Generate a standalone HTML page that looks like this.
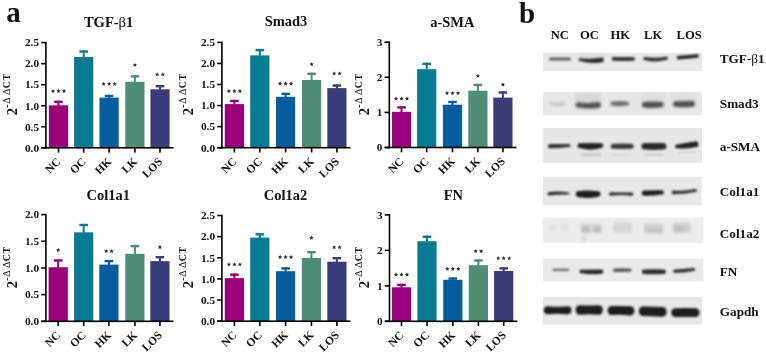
<!DOCTYPE html>
<html><head><meta charset="utf-8"><style>
html,body{margin:0;padding:0;background:#fff;}
body{width:766px;height:355px;overflow:hidden;}
svg{display:block;font-family:"Liberation Serif", serif;opacity:0.999;}
text{fill:#111;}
</style></head><body>
<svg width="766" height="355" viewBox="0 0 766 355">
<defs><filter id="bl" x="-10%" y="-50%" width="120%" height="200%"><feGaussianBlur stdDeviation="1.0"/></filter><filter id="bl3" x="-10%" y="-50%" width="120%" height="200%"><feGaussianBlur stdDeviation="1.4"/></filter><filter id="bl2" x="-20%" y="-50%" width="140%" height="200%"><feGaussianBlur stdDeviation="1.5"/></filter></defs>
<text x="6.2" y="21.5" font-size="29" font-weight="bold">a</text>
<text x="519.0" y="22.9" font-size="29" font-weight="bold">b</text>
<rect x="48.90" y="105.30" width="19.2" height="42.50" fill="#9b007a"/>
<rect x="57.50" y="100.60" width="2.0" height="5.20" fill="#9b007a"/>
<rect x="54.20" y="100.60" width="8.6" height="2.4" fill="#9b007a"/>
<path d="M53.00,88.80 L53.61,90.26 L55.19,90.39 L53.98,91.42 L54.35,92.96 L53.00,92.13 L51.65,92.96 L52.02,91.42 L50.81,90.39 L52.39,90.26Z" fill="#2a2a2a"/>
<path d="M58.50,88.80 L59.11,90.26 L60.69,90.39 L59.48,91.42 L59.85,92.96 L58.50,92.13 L57.15,92.96 L57.52,91.42 L56.31,90.39 L57.89,90.26Z" fill="#2a2a2a"/>
<path d="M64.00,88.80 L64.61,90.26 L66.19,90.39 L64.98,91.42 L65.35,92.96 L64.00,92.13 L62.65,92.96 L63.02,91.42 L61.81,90.39 L63.39,90.26Z" fill="#2a2a2a"/>
<rect x="57.70" y="147.80" width="1.6" height="4.8" fill="#000"/>
<text x="61.50" y="162.30" transform="rotate(-45 61.50 162.30)" text-anchor="end" font-size="11.5" font-weight="bold">NC</text>
<rect x="74.10" y="57.00" width="19.2" height="90.80" fill="#077b93"/>
<rect x="82.70" y="50.30" width="2.0" height="7.20" fill="#077b93"/>
<rect x="79.40" y="50.30" width="8.6" height="2.4" fill="#077b93"/>
<rect x="82.90" y="147.80" width="1.6" height="4.8" fill="#000"/>
<text x="86.70" y="162.30" transform="rotate(-45 86.70 162.30)" text-anchor="end" font-size="11.5" font-weight="bold">OC</text>
<rect x="99.50" y="97.60" width="19.2" height="50.20" fill="#055c9f"/>
<rect x="108.10" y="94.80" width="2.0" height="3.30" fill="#055c9f"/>
<rect x="104.80" y="94.80" width="8.6" height="2.4" fill="#055c9f"/>
<path d="M103.60,81.70 L104.21,83.16 L105.79,83.29 L104.58,84.32 L104.95,85.86 L103.60,85.03 L102.25,85.86 L102.62,84.32 L101.41,83.29 L102.99,83.16Z" fill="#2a2a2a"/>
<path d="M109.10,81.70 L109.71,83.16 L111.29,83.29 L110.08,84.32 L110.45,85.86 L109.10,85.03 L107.75,85.86 L108.12,84.32 L106.91,83.29 L108.49,83.16Z" fill="#2a2a2a"/>
<path d="M114.60,81.70 L115.21,83.16 L116.79,83.29 L115.58,84.32 L115.95,85.86 L114.60,85.03 L113.25,85.86 L113.62,84.32 L112.41,83.29 L113.99,83.16Z" fill="#2a2a2a"/>
<rect x="108.30" y="147.80" width="1.6" height="4.8" fill="#000"/>
<text x="112.10" y="162.30" transform="rotate(-45 112.10 162.30)" text-anchor="end" font-size="11.5" font-weight="bold">HK</text>
<rect x="125.30" y="81.80" width="19.2" height="66.00" fill="#4e8e74"/>
<rect x="133.90" y="75.10" width="2.0" height="7.20" fill="#4e8e74"/>
<rect x="130.60" y="75.10" width="8.6" height="2.4" fill="#4e8e74"/>
<path d="M134.90,62.70 L135.51,64.16 L137.09,64.29 L135.88,65.32 L136.25,66.86 L134.90,66.03 L133.55,66.86 L133.92,65.32 L132.71,64.29 L134.29,64.16Z" fill="#2a2a2a"/>
<rect x="134.10" y="147.80" width="1.6" height="4.8" fill="#000"/>
<text x="137.90" y="162.30" transform="rotate(-45 137.90 162.30)" text-anchor="end" font-size="11.5" font-weight="bold">LK</text>
<rect x="150.40" y="89.30" width="19.2" height="58.50" fill="#393c77"/>
<rect x="159.00" y="85.00" width="2.0" height="4.80" fill="#393c77"/>
<rect x="155.70" y="85.00" width="8.6" height="2.4" fill="#393c77"/>
<path d="M157.25,72.20 L157.86,73.66 L159.44,73.79 L158.23,74.82 L158.60,76.36 L157.25,75.53 L155.90,76.36 L156.27,74.82 L155.06,73.79 L156.64,73.66Z" fill="#2a2a2a"/>
<path d="M162.75,72.20 L163.36,73.66 L164.94,73.79 L163.73,74.82 L164.10,76.36 L162.75,75.53 L161.40,76.36 L161.77,74.82 L160.56,73.79 L162.14,73.66Z" fill="#2a2a2a"/>
<rect x="159.20" y="147.80" width="1.6" height="4.8" fill="#000"/>
<text x="163.00" y="162.30" transform="rotate(-45 163.00 162.30)" text-anchor="end" font-size="11.5" font-weight="bold">LOS</text>
<rect x="45.10" y="41.80" width="1.6" height="106.80" fill="#000"/>
<rect x="41.20" y="147.00" width="132.40" height="1.6" fill="#000"/>
<rect x="41.20" y="147.00" width="4.7" height="1.6" fill="#000"/>
<text x="39.10" y="151.60" text-anchor="end" font-size="11.3" font-weight="bold">0.0</text>
<rect x="41.20" y="125.96" width="4.7" height="1.6" fill="#000"/>
<text x="39.10" y="130.56" text-anchor="end" font-size="11.3" font-weight="bold">0.5</text>
<rect x="41.20" y="104.92" width="4.7" height="1.6" fill="#000"/>
<text x="39.10" y="109.52" text-anchor="end" font-size="11.3" font-weight="bold">1.0</text>
<rect x="41.20" y="83.88" width="4.7" height="1.6" fill="#000"/>
<text x="39.10" y="88.48" text-anchor="end" font-size="11.3" font-weight="bold">1.5</text>
<rect x="41.20" y="62.84" width="4.7" height="1.6" fill="#000"/>
<text x="39.10" y="67.44" text-anchor="end" font-size="11.3" font-weight="bold">2.0</text>
<rect x="41.20" y="41.80" width="4.7" height="1.6" fill="#000"/>
<text x="39.10" y="46.40" text-anchor="end" font-size="11.3" font-weight="bold">2.5</text>
<text x="108.60" y="27.20" text-anchor="middle" font-size="14.5" font-weight="bold">TGF-<tspan font-weight="normal">β</tspan>1</text>
<g transform="translate(17.00,115.30) rotate(-90)"><text x="0.1" y="0" font-size="14.5" font-weight="bold">2</text><text x="7.6" y="-7.1" font-size="10" font-weight="bold">-</text><text x="11.5" y="-7.1" font-size="10">Δ</text><text x="20.2" y="-7.1" font-size="10">Δ</text><text x="27.0" y="-7.1" font-size="10" font-weight="bold">C</text><text x="34.9" y="-7.1" font-size="10" font-weight="bold">T</text></g>
<rect x="224.80" y="104.10" width="19.2" height="43.60" fill="#9b007a"/>
<rect x="233.40" y="99.80" width="2.0" height="4.80" fill="#9b007a"/>
<rect x="230.10" y="99.80" width="8.6" height="2.4" fill="#9b007a"/>
<path d="M228.90,88.80 L229.51,90.26 L231.09,90.39 L229.88,91.42 L230.25,92.96 L228.90,92.13 L227.55,92.96 L227.92,91.42 L226.71,90.39 L228.29,90.26Z" fill="#2a2a2a"/>
<path d="M234.40,88.80 L235.01,90.26 L236.59,90.39 L235.38,91.42 L235.75,92.96 L234.40,92.13 L233.05,92.96 L233.42,91.42 L232.21,90.39 L233.79,90.26Z" fill="#2a2a2a"/>
<path d="M239.90,88.80 L240.51,90.26 L242.09,90.39 L240.88,91.42 L241.25,92.96 L239.90,92.13 L238.55,92.96 L238.92,91.42 L237.71,90.39 L239.29,90.26Z" fill="#2a2a2a"/>
<rect x="233.60" y="147.70" width="1.6" height="4.8" fill="#000"/>
<text x="237.40" y="162.20" transform="rotate(-45 237.40 162.20)" text-anchor="end" font-size="11.5" font-weight="bold">NC</text>
<rect x="250.20" y="55.40" width="19.2" height="92.30" fill="#077b93"/>
<rect x="258.80" y="48.90" width="2.0" height="7.00" fill="#077b93"/>
<rect x="255.50" y="48.90" width="8.6" height="2.4" fill="#077b93"/>
<rect x="259.00" y="147.70" width="1.6" height="4.8" fill="#000"/>
<text x="262.80" y="162.20" transform="rotate(-45 262.80 162.20)" text-anchor="end" font-size="11.5" font-weight="bold">OC</text>
<rect x="276.00" y="96.80" width="19.2" height="50.90" fill="#055c9f"/>
<rect x="284.60" y="92.70" width="2.0" height="4.60" fill="#055c9f"/>
<rect x="281.30" y="92.70" width="8.6" height="2.4" fill="#055c9f"/>
<path d="M280.10,81.30 L280.71,82.76 L282.29,82.89 L281.08,83.92 L281.45,85.46 L280.10,84.63 L278.75,85.46 L279.12,83.92 L277.91,82.89 L279.49,82.76Z" fill="#2a2a2a"/>
<path d="M285.60,81.30 L286.21,82.76 L287.79,82.89 L286.58,83.92 L286.95,85.46 L285.60,84.63 L284.25,85.46 L284.62,83.92 L283.41,82.89 L284.99,82.76Z" fill="#2a2a2a"/>
<path d="M291.10,81.30 L291.71,82.76 L293.29,82.89 L292.08,83.92 L292.45,85.46 L291.10,84.63 L289.75,85.46 L290.12,83.92 L288.91,82.89 L290.49,82.76Z" fill="#2a2a2a"/>
<rect x="284.80" y="147.70" width="1.6" height="4.8" fill="#000"/>
<text x="288.60" y="162.20" transform="rotate(-45 288.60 162.20)" text-anchor="end" font-size="11.5" font-weight="bold">HK</text>
<rect x="302.00" y="80.00" width="19.2" height="67.70" fill="#4e8e74"/>
<rect x="310.60" y="72.60" width="2.0" height="7.90" fill="#4e8e74"/>
<rect x="307.30" y="72.60" width="8.6" height="2.4" fill="#4e8e74"/>
<path d="M311.60,62.00 L312.21,63.46 L313.79,63.59 L312.58,64.62 L312.95,66.16 L311.60,65.33 L310.25,66.16 L310.62,64.62 L309.41,63.59 L310.99,63.46Z" fill="#2a2a2a"/>
<rect x="310.80" y="147.70" width="1.6" height="4.8" fill="#000"/>
<text x="314.60" y="162.20" transform="rotate(-45 314.60 162.20)" text-anchor="end" font-size="11.5" font-weight="bold">LK</text>
<rect x="327.30" y="88.10" width="19.2" height="59.60" fill="#393c77"/>
<rect x="335.90" y="84.40" width="2.0" height="4.20" fill="#393c77"/>
<rect x="332.60" y="84.40" width="8.6" height="2.4" fill="#393c77"/>
<path d="M334.15,71.20 L334.76,72.66 L336.34,72.79 L335.13,73.82 L335.50,75.36 L334.15,74.53 L332.80,75.36 L333.17,73.82 L331.96,72.79 L333.54,72.66Z" fill="#2a2a2a"/>
<path d="M339.65,71.20 L340.26,72.66 L341.84,72.79 L340.63,73.82 L341.00,75.36 L339.65,74.53 L338.30,75.36 L338.67,73.82 L337.46,72.79 L339.04,72.66Z" fill="#2a2a2a"/>
<rect x="336.10" y="147.70" width="1.6" height="4.8" fill="#000"/>
<text x="339.90" y="162.20" transform="rotate(-45 339.90 162.20)" text-anchor="end" font-size="11.5" font-weight="bold">LOS</text>
<rect x="221.10" y="41.60" width="1.6" height="106.90" fill="#000"/>
<rect x="217.20" y="146.90" width="133.30" height="1.6" fill="#000"/>
<rect x="217.20" y="146.90" width="4.7" height="1.6" fill="#000"/>
<text x="215.10" y="151.50" text-anchor="end" font-size="11.3" font-weight="bold">0.0</text>
<rect x="217.20" y="125.84" width="4.7" height="1.6" fill="#000"/>
<text x="215.10" y="130.44" text-anchor="end" font-size="11.3" font-weight="bold">0.5</text>
<rect x="217.20" y="104.78" width="4.7" height="1.6" fill="#000"/>
<text x="215.10" y="109.38" text-anchor="end" font-size="11.3" font-weight="bold">1.0</text>
<rect x="217.20" y="83.72" width="4.7" height="1.6" fill="#000"/>
<text x="215.10" y="88.32" text-anchor="end" font-size="11.3" font-weight="bold">1.5</text>
<rect x="217.20" y="62.66" width="4.7" height="1.6" fill="#000"/>
<text x="215.10" y="67.26" text-anchor="end" font-size="11.3" font-weight="bold">2.0</text>
<rect x="217.20" y="41.60" width="4.7" height="1.6" fill="#000"/>
<text x="215.10" y="46.20" text-anchor="end" font-size="11.3" font-weight="bold">2.5</text>
<text x="286.00" y="26.40" text-anchor="middle" font-size="14.5" font-weight="bold">Smad3</text>
<g transform="translate(193.00,115.30) rotate(-90)"><text x="0.1" y="0" font-size="14.5" font-weight="bold">2</text><text x="7.6" y="-7.1" font-size="10" font-weight="bold">-</text><text x="11.5" y="-7.1" font-size="10">Δ</text><text x="20.2" y="-7.1" font-size="10">Δ</text><text x="27.0" y="-7.1" font-size="10" font-weight="bold">C</text><text x="34.9" y="-7.1" font-size="10" font-weight="bold">T</text></g>
<rect x="391.90" y="111.80" width="19.2" height="35.70" fill="#9b007a"/>
<rect x="400.50" y="106.20" width="2.0" height="6.10" fill="#9b007a"/>
<rect x="397.20" y="106.20" width="8.6" height="2.4" fill="#9b007a"/>
<path d="M396.00,96.40 L396.61,97.86 L398.19,97.99 L396.98,99.02 L397.35,100.56 L396.00,99.73 L394.65,100.56 L395.02,99.02 L393.81,97.99 L395.39,97.86Z" fill="#2a2a2a"/>
<path d="M401.50,96.40 L402.11,97.86 L403.69,97.99 L402.48,99.02 L402.85,100.56 L401.50,99.73 L400.15,100.56 L400.52,99.02 L399.31,97.99 L400.89,97.86Z" fill="#2a2a2a"/>
<path d="M407.00,96.40 L407.61,97.86 L409.19,97.99 L407.98,99.02 L408.35,100.56 L407.00,99.73 L405.65,100.56 L406.02,99.02 L404.81,97.99 L406.39,97.86Z" fill="#2a2a2a"/>
<rect x="400.70" y="147.50" width="1.6" height="4.8" fill="#000"/>
<text x="404.50" y="162.00" transform="rotate(-45 404.50 162.00)" text-anchor="end" font-size="11.5" font-weight="bold">NC</text>
<rect x="417.10" y="69.20" width="19.2" height="78.30" fill="#077b93"/>
<rect x="425.70" y="62.70" width="2.0" height="7.00" fill="#077b93"/>
<rect x="422.40" y="62.70" width="8.6" height="2.4" fill="#077b93"/>
<rect x="425.90" y="147.50" width="1.6" height="4.8" fill="#000"/>
<text x="429.70" y="162.00" transform="rotate(-45 429.70 162.00)" text-anchor="end" font-size="11.5" font-weight="bold">OC</text>
<rect x="442.90" y="104.70" width="19.2" height="42.80" fill="#055c9f"/>
<rect x="451.50" y="100.80" width="2.0" height="4.40" fill="#055c9f"/>
<rect x="448.20" y="100.80" width="8.6" height="2.4" fill="#055c9f"/>
<path d="M447.00,90.90 L447.61,92.36 L449.19,92.49 L447.98,93.52 L448.35,95.06 L447.00,94.23 L445.65,95.06 L446.02,93.52 L444.81,92.49 L446.39,92.36Z" fill="#2a2a2a"/>
<path d="M452.50,90.90 L453.11,92.36 L454.69,92.49 L453.48,93.52 L453.85,95.06 L452.50,94.23 L451.15,95.06 L451.52,93.52 L450.31,92.49 L451.89,92.36Z" fill="#2a2a2a"/>
<path d="M458.00,90.90 L458.61,92.36 L460.19,92.49 L458.98,93.52 L459.35,95.06 L458.00,94.23 L456.65,95.06 L457.02,93.52 L455.81,92.49 L457.39,92.36Z" fill="#2a2a2a"/>
<rect x="451.70" y="147.50" width="1.6" height="4.8" fill="#000"/>
<text x="455.50" y="162.00" transform="rotate(-45 455.50 162.00)" text-anchor="end" font-size="11.5" font-weight="bold">HK</text>
<rect x="468.30" y="90.70" width="19.2" height="56.80" fill="#4e8e74"/>
<rect x="476.90" y="83.80" width="2.0" height="7.40" fill="#4e8e74"/>
<rect x="473.60" y="83.80" width="8.6" height="2.4" fill="#4e8e74"/>
<path d="M477.90,73.70 L478.51,75.16 L480.09,75.29 L478.88,76.32 L479.25,77.86 L477.90,77.03 L476.55,77.86 L476.92,76.32 L475.71,75.29 L477.29,75.16Z" fill="#2a2a2a"/>
<rect x="477.10" y="147.50" width="1.6" height="4.8" fill="#000"/>
<text x="480.90" y="162.00" transform="rotate(-45 480.90 162.00)" text-anchor="end" font-size="11.5" font-weight="bold">LK</text>
<rect x="493.30" y="97.60" width="19.2" height="49.90" fill="#393c77"/>
<rect x="501.90" y="91.30" width="2.0" height="6.80" fill="#393c77"/>
<rect x="498.60" y="91.30" width="8.6" height="2.4" fill="#393c77"/>
<path d="M502.90,82.40 L503.51,83.86 L505.09,83.99 L503.88,85.02 L504.25,86.56 L502.90,85.73 L501.55,86.56 L501.92,85.02 L500.71,83.99 L502.29,83.86Z" fill="#2a2a2a"/>
<rect x="502.10" y="147.50" width="1.6" height="4.8" fill="#000"/>
<text x="505.90" y="162.00" transform="rotate(-45 505.90 162.00)" text-anchor="end" font-size="11.5" font-weight="bold">LOS</text>
<rect x="388.50" y="41.40" width="1.6" height="106.90" fill="#000"/>
<rect x="384.60" y="146.70" width="131.90" height="1.6" fill="#000"/>
<rect x="384.60" y="146.70" width="4.7" height="1.6" fill="#000"/>
<text x="382.50" y="151.30" text-anchor="end" font-size="11.3" font-weight="bold">0</text>
<rect x="384.60" y="111.60" width="4.7" height="1.6" fill="#000"/>
<text x="382.50" y="116.20" text-anchor="end" font-size="11.3" font-weight="bold">1</text>
<rect x="384.60" y="76.50" width="4.7" height="1.6" fill="#000"/>
<text x="382.50" y="81.10" text-anchor="end" font-size="11.3" font-weight="bold">2</text>
<rect x="384.60" y="41.40" width="4.7" height="1.6" fill="#000"/>
<text x="382.50" y="46.00" text-anchor="end" font-size="11.3" font-weight="bold">3</text>
<text x="452.30" y="27.00" text-anchor="middle" font-size="14.5" font-weight="bold">a-SMA</text>
<g transform="translate(369.20,115.30) rotate(-90)"><text x="0.1" y="0" font-size="14.5" font-weight="bold">2</text><text x="7.6" y="-7.1" font-size="10" font-weight="bold">-</text><text x="11.5" y="-7.1" font-size="10">Δ</text><text x="20.2" y="-7.1" font-size="10">Δ</text><text x="27.0" y="-7.1" font-size="10" font-weight="bold">C</text><text x="34.9" y="-7.1" font-size="10" font-weight="bold">T</text></g>
<rect x="48.60" y="267.20" width="19.2" height="54.10" fill="#9b007a"/>
<rect x="57.20" y="259.30" width="2.0" height="8.40" fill="#9b007a"/>
<rect x="53.90" y="259.30" width="8.6" height="2.4" fill="#9b007a"/>
<path d="M58.20,247.80 L58.81,249.26 L60.39,249.39 L59.18,250.42 L59.55,251.96 L58.20,251.13 L56.85,251.96 L57.22,250.42 L56.01,249.39 L57.59,249.26Z" fill="#2a2a2a"/>
<rect x="57.40" y="321.30" width="1.6" height="4.8" fill="#000"/>
<text x="61.20" y="335.80" transform="rotate(-45 61.20 335.80)" text-anchor="end" font-size="11.5" font-weight="bold">NC</text>
<rect x="74.10" y="232.30" width="19.2" height="89.00" fill="#077b93"/>
<rect x="82.70" y="223.80" width="2.0" height="9.00" fill="#077b93"/>
<rect x="79.40" y="223.80" width="8.6" height="2.4" fill="#077b93"/>
<rect x="82.90" y="321.30" width="1.6" height="4.8" fill="#000"/>
<text x="86.70" y="335.80" transform="rotate(-45 86.70 335.80)" text-anchor="end" font-size="11.5" font-weight="bold">OC</text>
<rect x="99.30" y="264.60" width="19.2" height="56.70" fill="#055c9f"/>
<rect x="107.90" y="259.90" width="2.0" height="5.20" fill="#055c9f"/>
<rect x="104.60" y="259.90" width="8.6" height="2.4" fill="#055c9f"/>
<path d="M106.15,248.90 L106.76,250.36 L108.34,250.49 L107.13,251.52 L107.50,253.06 L106.15,252.23 L104.80,253.06 L105.17,251.52 L103.96,250.49 L105.54,250.36Z" fill="#2a2a2a"/>
<path d="M111.65,248.90 L112.26,250.36 L113.84,250.49 L112.63,251.52 L113.00,253.06 L111.65,252.23 L110.30,253.06 L110.67,251.52 L109.46,250.49 L111.04,250.36Z" fill="#2a2a2a"/>
<rect x="108.10" y="321.30" width="1.6" height="4.8" fill="#000"/>
<text x="111.90" y="335.80" transform="rotate(-45 111.90 335.80)" text-anchor="end" font-size="11.5" font-weight="bold">HK</text>
<rect x="125.30" y="253.80" width="19.2" height="67.50" fill="#4e8e74"/>
<rect x="133.90" y="244.90" width="2.0" height="9.40" fill="#4e8e74"/>
<rect x="130.60" y="244.90" width="8.6" height="2.4" fill="#4e8e74"/>
<rect x="134.10" y="321.30" width="1.6" height="4.8" fill="#000"/>
<text x="137.90" y="335.80" transform="rotate(-45 137.90 335.80)" text-anchor="end" font-size="11.5" font-weight="bold">LK</text>
<rect x="150.30" y="261.10" width="19.2" height="60.20" fill="#393c77"/>
<rect x="158.90" y="256.00" width="2.0" height="5.60" fill="#393c77"/>
<rect x="155.60" y="256.00" width="8.6" height="2.4" fill="#393c77"/>
<path d="M159.90,244.90 L160.51,246.36 L162.09,246.49 L160.88,247.52 L161.25,249.06 L159.90,248.23 L158.55,249.06 L158.92,247.52 L157.71,246.49 L159.29,246.36Z" fill="#2a2a2a"/>
<rect x="159.10" y="321.30" width="1.6" height="4.8" fill="#000"/>
<text x="162.90" y="335.80" transform="rotate(-45 162.90 335.80)" text-anchor="end" font-size="11.5" font-weight="bold">LOS</text>
<rect x="45.10" y="213.80" width="1.6" height="108.30" fill="#000"/>
<rect x="41.20" y="320.50" width="132.30" height="1.6" fill="#000"/>
<rect x="41.20" y="320.50" width="4.7" height="1.6" fill="#000"/>
<text x="39.10" y="325.10" text-anchor="end" font-size="11.3" font-weight="bold">0.0</text>
<rect x="41.20" y="293.82" width="4.7" height="1.6" fill="#000"/>
<text x="39.10" y="298.43" text-anchor="end" font-size="11.3" font-weight="bold">0.5</text>
<rect x="41.20" y="267.15" width="4.7" height="1.6" fill="#000"/>
<text x="39.10" y="271.75" text-anchor="end" font-size="11.3" font-weight="bold">1.0</text>
<rect x="41.20" y="240.47" width="4.7" height="1.6" fill="#000"/>
<text x="39.10" y="245.08" text-anchor="end" font-size="11.3" font-weight="bold">1.5</text>
<rect x="41.20" y="213.80" width="4.7" height="1.6" fill="#000"/>
<text x="39.10" y="218.40" text-anchor="end" font-size="11.3" font-weight="bold">2.0</text>
<text x="108.30" y="200.30" text-anchor="middle" font-size="14.5" font-weight="bold">Col1a1</text>
<g transform="translate(17.00,288.30) rotate(-90)"><text x="0.1" y="0" font-size="14.5" font-weight="bold">2</text><text x="7.6" y="-7.1" font-size="10" font-weight="bold">-</text><text x="11.5" y="-7.1" font-size="10">Δ</text><text x="20.2" y="-7.1" font-size="10">Δ</text><text x="27.0" y="-7.1" font-size="10" font-weight="bold">C</text><text x="34.9" y="-7.1" font-size="10" font-weight="bold">T</text></g>
<rect x="224.80" y="278.10" width="19.2" height="43.10" fill="#9b007a"/>
<rect x="233.40" y="273.50" width="2.0" height="5.10" fill="#9b007a"/>
<rect x="230.10" y="273.50" width="8.6" height="2.4" fill="#9b007a"/>
<path d="M228.90,262.20 L229.51,263.66 L231.09,263.79 L229.88,264.82 L230.25,266.36 L228.90,265.54 L227.55,266.36 L227.92,264.82 L226.71,263.79 L228.29,263.66Z" fill="#2a2a2a"/>
<path d="M234.40,262.20 L235.01,263.66 L236.59,263.79 L235.38,264.82 L235.75,266.36 L234.40,265.54 L233.05,266.36 L233.42,264.82 L232.21,263.79 L233.79,263.66Z" fill="#2a2a2a"/>
<path d="M239.90,262.20 L240.51,263.66 L242.09,263.79 L240.88,264.82 L241.25,266.36 L239.90,265.54 L238.55,266.36 L238.92,264.82 L237.71,263.79 L239.29,263.66Z" fill="#2a2a2a"/>
<rect x="233.60" y="321.20" width="1.6" height="4.8" fill="#000"/>
<text x="237.40" y="335.70" transform="rotate(-45 237.40 335.70)" text-anchor="end" font-size="11.5" font-weight="bold">NC</text>
<rect x="250.20" y="237.60" width="19.2" height="83.60" fill="#077b93"/>
<rect x="258.80" y="233.10" width="2.0" height="5.00" fill="#077b93"/>
<rect x="255.50" y="233.10" width="8.6" height="2.4" fill="#077b93"/>
<rect x="259.00" y="321.20" width="1.6" height="4.8" fill="#000"/>
<text x="262.80" y="335.70" transform="rotate(-45 262.80 335.70)" text-anchor="end" font-size="11.5" font-weight="bold">OC</text>
<rect x="276.00" y="271.20" width="19.2" height="50.00" fill="#055c9f"/>
<rect x="284.60" y="267.20" width="2.0" height="4.50" fill="#055c9f"/>
<rect x="281.30" y="267.20" width="8.6" height="2.4" fill="#055c9f"/>
<path d="M280.10,254.80 L280.71,256.26 L282.29,256.39 L281.08,257.42 L281.45,258.96 L280.10,258.14 L278.75,258.96 L279.12,257.42 L277.91,256.39 L279.49,256.26Z" fill="#2a2a2a"/>
<path d="M285.60,254.80 L286.21,256.26 L287.79,256.39 L286.58,257.42 L286.95,258.96 L285.60,258.14 L284.25,258.96 L284.62,257.42 L283.41,256.39 L284.99,256.26Z" fill="#2a2a2a"/>
<path d="M291.10,254.80 L291.71,256.26 L293.29,256.39 L292.08,257.42 L292.45,258.96 L291.10,258.14 L289.75,258.96 L290.12,257.42 L288.91,256.39 L290.49,256.26Z" fill="#2a2a2a"/>
<rect x="284.80" y="321.20" width="1.6" height="4.8" fill="#000"/>
<text x="288.60" y="335.70" transform="rotate(-45 288.60 335.70)" text-anchor="end" font-size="11.5" font-weight="bold">HK</text>
<rect x="301.80" y="257.90" width="19.2" height="63.30" fill="#4e8e74"/>
<rect x="310.40" y="251.00" width="2.0" height="7.40" fill="#4e8e74"/>
<rect x="307.10" y="251.00" width="8.6" height="2.4" fill="#4e8e74"/>
<path d="M311.40,235.60 L312.01,237.06 L313.59,237.19 L312.38,238.22 L312.75,239.76 L311.40,238.94 L310.05,239.76 L310.42,238.22 L309.21,237.19 L310.79,237.06Z" fill="#2a2a2a"/>
<rect x="310.60" y="321.20" width="1.6" height="4.8" fill="#000"/>
<text x="314.40" y="335.70" transform="rotate(-45 314.40 335.70)" text-anchor="end" font-size="11.5" font-weight="bold">LK</text>
<rect x="327.30" y="261.70" width="19.2" height="59.50" fill="#393c77"/>
<rect x="335.90" y="257.00" width="2.0" height="5.20" fill="#393c77"/>
<rect x="332.60" y="257.00" width="8.6" height="2.4" fill="#393c77"/>
<path d="M334.15,245.00 L334.76,246.46 L336.34,246.59 L335.13,247.62 L335.50,249.16 L334.15,248.34 L332.80,249.16 L333.17,247.62 L331.96,246.59 L333.54,246.46Z" fill="#2a2a2a"/>
<path d="M339.65,245.00 L340.26,246.46 L341.84,246.59 L340.63,247.62 L341.00,249.16 L339.65,248.34 L338.30,249.16 L338.67,247.62 L337.46,246.59 L339.04,246.46Z" fill="#2a2a2a"/>
<rect x="336.10" y="321.20" width="1.6" height="4.8" fill="#000"/>
<text x="339.90" y="335.70" transform="rotate(-45 339.90 335.70)" text-anchor="end" font-size="11.5" font-weight="bold">LOS</text>
<rect x="221.10" y="214.70" width="1.6" height="107.30" fill="#000"/>
<rect x="217.20" y="320.40" width="133.30" height="1.6" fill="#000"/>
<rect x="217.20" y="320.40" width="4.7" height="1.6" fill="#000"/>
<text x="215.10" y="325.00" text-anchor="end" font-size="11.3" font-weight="bold">0.0</text>
<rect x="217.20" y="299.26" width="4.7" height="1.6" fill="#000"/>
<text x="215.10" y="303.86" text-anchor="end" font-size="11.3" font-weight="bold">0.5</text>
<rect x="217.20" y="278.12" width="4.7" height="1.6" fill="#000"/>
<text x="215.10" y="282.72" text-anchor="end" font-size="11.3" font-weight="bold">1.0</text>
<rect x="217.20" y="256.98" width="4.7" height="1.6" fill="#000"/>
<text x="215.10" y="261.58" text-anchor="end" font-size="11.3" font-weight="bold">1.5</text>
<rect x="217.20" y="235.84" width="4.7" height="1.6" fill="#000"/>
<text x="215.10" y="240.44" text-anchor="end" font-size="11.3" font-weight="bold">2.0</text>
<rect x="217.20" y="214.70" width="4.7" height="1.6" fill="#000"/>
<text x="215.10" y="219.30" text-anchor="end" font-size="11.3" font-weight="bold">2.5</text>
<text x="285.50" y="200.30" text-anchor="middle" font-size="14.5" font-weight="bold">Col1a2</text>
<g transform="translate(193.00,288.30) rotate(-90)"><text x="0.1" y="0" font-size="14.5" font-weight="bold">2</text><text x="7.6" y="-7.1" font-size="10" font-weight="bold">-</text><text x="11.5" y="-7.1" font-size="10">Δ</text><text x="20.2" y="-7.1" font-size="10">Δ</text><text x="27.0" y="-7.1" font-size="10" font-weight="bold">C</text><text x="34.9" y="-7.1" font-size="10" font-weight="bold">T</text></g>
<rect x="391.90" y="287.30" width="19.2" height="34.00" fill="#9b007a"/>
<rect x="400.50" y="283.70" width="2.0" height="4.10" fill="#9b007a"/>
<rect x="397.20" y="283.70" width="8.6" height="2.4" fill="#9b007a"/>
<path d="M396.00,272.30 L396.61,273.76 L398.19,273.89 L396.98,274.92 L397.35,276.46 L396.00,275.64 L394.65,276.46 L395.02,274.92 L393.81,273.89 L395.39,273.76Z" fill="#2a2a2a"/>
<path d="M401.50,272.30 L402.11,273.76 L403.69,273.89 L402.48,274.92 L402.85,276.46 L401.50,275.64 L400.15,276.46 L400.52,274.92 L399.31,273.89 L400.89,273.76Z" fill="#2a2a2a"/>
<path d="M407.00,272.30 L407.61,273.76 L409.19,273.89 L407.98,274.92 L408.35,276.46 L407.00,275.64 L405.65,276.46 L406.02,274.92 L404.81,273.89 L406.39,273.76Z" fill="#2a2a2a"/>
<rect x="400.70" y="321.30" width="1.6" height="4.8" fill="#000"/>
<text x="404.50" y="335.80" transform="rotate(-45 404.50 335.80)" text-anchor="end" font-size="11.5" font-weight="bold">NC</text>
<rect x="417.40" y="241.20" width="19.2" height="80.10" fill="#077b93"/>
<rect x="426.00" y="235.60" width="2.0" height="6.10" fill="#077b93"/>
<rect x="422.70" y="235.60" width="8.6" height="2.4" fill="#077b93"/>
<rect x="426.20" y="321.30" width="1.6" height="4.8" fill="#000"/>
<text x="430.00" y="335.80" transform="rotate(-45 430.00 335.80)" text-anchor="end" font-size="11.5" font-weight="bold">OC</text>
<rect x="443.20" y="279.80" width="19.2" height="41.50" fill="#055c9f"/>
<rect x="451.80" y="277.40" width="2.0" height="2.90" fill="#055c9f"/>
<rect x="448.50" y="277.40" width="8.6" height="2.4" fill="#055c9f"/>
<path d="M447.30,266.60 L447.91,268.06 L449.49,268.19 L448.28,269.22 L448.65,270.76 L447.30,269.94 L445.95,270.76 L446.32,269.22 L445.11,268.19 L446.69,268.06Z" fill="#2a2a2a"/>
<path d="M452.80,266.60 L453.41,268.06 L454.99,268.19 L453.78,269.22 L454.15,270.76 L452.80,269.94 L451.45,270.76 L451.82,269.22 L450.61,268.19 L452.19,268.06Z" fill="#2a2a2a"/>
<path d="M458.30,266.60 L458.91,268.06 L460.49,268.19 L459.28,269.22 L459.65,270.76 L458.30,269.94 L456.95,270.76 L457.32,269.22 L456.11,268.19 L457.69,268.06Z" fill="#2a2a2a"/>
<rect x="452.00" y="321.30" width="1.6" height="4.8" fill="#000"/>
<text x="455.80" y="335.80" transform="rotate(-45 455.80 335.80)" text-anchor="end" font-size="11.5" font-weight="bold">HK</text>
<rect x="468.80" y="265.20" width="19.2" height="56.10" fill="#4e8e74"/>
<rect x="477.40" y="259.30" width="2.0" height="6.40" fill="#4e8e74"/>
<rect x="474.10" y="259.30" width="8.6" height="2.4" fill="#4e8e74"/>
<path d="M475.65,248.90 L476.26,250.36 L477.84,250.49 L476.63,251.52 L477.00,253.06 L475.65,252.23 L474.30,253.06 L474.67,251.52 L473.46,250.49 L475.04,250.36Z" fill="#2a2a2a"/>
<path d="M481.15,248.90 L481.76,250.36 L483.34,250.49 L482.13,251.52 L482.50,253.06 L481.15,252.23 L479.80,253.06 L480.17,251.52 L478.96,250.49 L480.54,250.36Z" fill="#2a2a2a"/>
<rect x="477.60" y="321.30" width="1.6" height="4.8" fill="#000"/>
<text x="481.40" y="335.80" transform="rotate(-45 481.40 335.80)" text-anchor="end" font-size="11.5" font-weight="bold">LK</text>
<rect x="494.10" y="271.00" width="19.2" height="50.30" fill="#393c77"/>
<rect x="502.70" y="267.20" width="2.0" height="4.30" fill="#393c77"/>
<rect x="499.40" y="267.20" width="8.6" height="2.4" fill="#393c77"/>
<path d="M498.20,256.00 L498.81,257.46 L500.39,257.59 L499.18,258.62 L499.55,260.16 L498.20,259.34 L496.85,260.16 L497.22,258.62 L496.01,257.59 L497.59,257.46Z" fill="#2a2a2a"/>
<path d="M503.70,256.00 L504.31,257.46 L505.89,257.59 L504.68,258.62 L505.05,260.16 L503.70,259.34 L502.35,260.16 L502.72,258.62 L501.51,257.59 L503.09,257.46Z" fill="#2a2a2a"/>
<path d="M509.20,256.00 L509.81,257.46 L511.39,257.59 L510.18,258.62 L510.55,260.16 L509.20,259.34 L507.85,260.16 L508.22,258.62 L507.01,257.59 L508.59,257.46Z" fill="#2a2a2a"/>
<rect x="502.90" y="321.30" width="1.6" height="4.8" fill="#000"/>
<text x="506.70" y="335.80" transform="rotate(-45 506.70 335.80)" text-anchor="end" font-size="11.5" font-weight="bold">LOS</text>
<rect x="388.70" y="214.10" width="1.6" height="108.00" fill="#000"/>
<rect x="384.80" y="320.50" width="132.50" height="1.6" fill="#000"/>
<rect x="384.80" y="320.50" width="4.7" height="1.6" fill="#000"/>
<text x="382.70" y="325.10" text-anchor="end" font-size="11.3" font-weight="bold">0</text>
<rect x="384.80" y="285.03" width="4.7" height="1.6" fill="#000"/>
<text x="382.70" y="289.63" text-anchor="end" font-size="11.3" font-weight="bold">1</text>
<rect x="384.80" y="249.57" width="4.7" height="1.6" fill="#000"/>
<text x="382.70" y="254.17" text-anchor="end" font-size="11.3" font-weight="bold">2</text>
<rect x="384.80" y="214.10" width="4.7" height="1.6" fill="#000"/>
<text x="382.70" y="218.70" text-anchor="end" font-size="11.3" font-weight="bold">3</text>
<text x="453.30" y="199.80" text-anchor="middle" font-size="14.5" font-weight="bold">FN</text>
<g transform="translate(369.20,288.30) rotate(-90)"><text x="0.1" y="0" font-size="14.5" font-weight="bold">2</text><text x="7.6" y="-7.1" font-size="10" font-weight="bold">-</text><text x="11.5" y="-7.1" font-size="10">Δ</text><text x="20.2" y="-7.1" font-size="10">Δ</text><text x="27.0" y="-7.1" font-size="10" font-weight="bold">C</text><text x="34.9" y="-7.1" font-size="10" font-weight="bold">T</text></g>
<rect x="543.0" y="52.8" width="159.00" height="18.20" fill="#e9e9e9"/>
<text x="719.8" y="62.7" font-size="13.2" font-weight="bold">TGF-<tspan font-weight="normal">β</tspan>1</text>
<rect x="543.0" y="92.0" width="159.00" height="23.40" fill="#e8e8e8"/>
<text x="719.8" y="108.0" font-size="13.2" font-weight="bold">Smad3</text>
<rect x="542.8" y="128.0" width="159.20" height="34.80" fill="#e7e7e7"/>
<text x="719.8" y="150.7" font-size="13.2" font-weight="bold">a-SMA</text>
<rect x="543.0" y="176.8" width="158.70" height="28.40" fill="#e8e8e8"/>
<text x="719.8" y="195.7" font-size="13.2" font-weight="bold">Col1a1</text>
<rect x="543.0" y="217.6" width="160.40" height="25.30" fill="#ededed"/>
<text x="719.8" y="238.2" font-size="13.2" font-weight="bold">Col1a2</text>
<rect x="543.0" y="258.7" width="160.40" height="22.60" fill="#eaeaea"/>
<text x="719.8" y="275.9" font-size="13.2" font-weight="bold">FN</text>
<rect x="543.0" y="297.0" width="159.00" height="27.50" fill="#e7e7e7"/>
<text x="719.8" y="315.5" font-size="13.2" font-weight="bold">Gapdh</text>
<g filter="url(#bl2)">
<rect x="550.00" y="224.00" width="6.00" height="7.00" rx="1.5" fill="#e0e0e0"/>
<rect x="561.00" y="224.00" width="6.50" height="7.00" rx="1.5" fill="#e0e0e0"/>
<rect x="580.70" y="223.50" width="20.90" height="9.00" rx="1.5" fill="#d4d4d4"/>
<rect x="581.50" y="226.50" width="8.00" height="6.50" rx="1.5" fill="#bcbcbc"/>
<rect x="593.50" y="226.50" width="7.50" height="6.50" rx="1.5" fill="#bcbcbc"/>
<rect x="581.00" y="236.00" width="5.00" height="5.50" rx="1.5" fill="#d6d6d6"/>
<rect x="613.60" y="222.60" width="18.40" height="9.80" rx="1.5" fill="#d6d6d6"/>
<rect x="644.00" y="223.50" width="19.30" height="9.80" rx="1.5" fill="#d0d0d0"/>
<rect x="644.50" y="228.00" width="18.50" height="5.30" rx="1.5" fill="#c4c4c4"/>
<rect x="672.80" y="222.80" width="18.20" height="9.80" rx="1.5" fill="#cfcfcf"/>
<rect x="673.50" y="226.00" width="10.50" height="6.60" rx="1.5" fill="#c2c2c2"/>
<rect x="578.00" y="53.50" width="26.00" height="3.50" rx="1.5" fill="#dedede"/>
<rect x="575.00" y="93.00" width="26.00" height="9.00" rx="1.5" fill="#d9d9d9"/>
<rect x="641.00" y="93.00" width="24.00" height="8.00" rx="1.5" fill="#dfdfdf"/>
<rect x="672.00" y="93.00" width="24.00" height="7.50" rx="1.5" fill="#dfdfdf"/>
</g>
<g filter="url(#bl)">
<path d="M550.55,57.40 Q560.00,57.40 569.45,57.40 A1.75,1.55 0 0 1 569.45,60.50 Q560.00,60.50 550.55,60.50 A1.75,1.55 0 0 1 550.55,57.40Z" fill="#5c5c5c"/>
<path d="M580.00,58.30 Q591.10,59.25 602.20,57.60 A1.60,2.35 0 0 1 602.20,62.30 Q591.10,64.10 580.00,61.10 A1.60,1.40 0 0 1 580.00,58.30Z" fill="#2a2a2a"/>
<path d="M613.60,57.10 Q623.30,56.90 633.00,57.10 A2.00,1.80 0 0 1 633.00,60.70 Q623.30,61.10 613.60,60.70 A2.00,1.80 0 0 1 613.60,57.10Z" fill="#363636"/>
<path d="M645.00,57.00 Q655.60,58.85 666.20,56.50 A1.80,1.65 0 0 1 666.20,59.80 Q655.60,62.80 645.00,60.20 A1.80,1.60 0 0 1 645.00,57.00Z" fill="#303030"/>
<path d="M678.65,55.70 Q687.80,55.00 696.95,54.30 A2.05,1.70 0 0 1 696.95,57.70 Q687.80,59.05 678.65,59.40 A2.05,1.85 0 0 1 678.65,55.70Z" fill="#262626"/>
<path d="M550.10,144.10 Q559.30,143.80 568.50,143.90 A2.30,1.50 0 0 1 568.50,146.90 Q559.30,148.60 550.10,148.30 A2.30,2.10 0 0 1 550.10,144.10Z" fill="#363636"/>
<path d="M580.10,143.30 Q590.45,142.90 600.80,143.30 A2.60,2.30 0 0 1 600.80,147.90 Q590.45,151.40 580.10,148.10 A2.60,2.40 0 0 1 580.10,143.30Z" fill="#222"/>
<path d="M581.90,153.50 Q590.75,153.50 599.60,153.50 A1.40,1.20 0 0 1 599.60,155.90 Q590.75,155.90 581.90,155.90 A1.40,1.20 0 0 1 581.90,153.50Z" fill="#c4c4c4"/>
<path d="M613.30,143.70 Q622.20,143.30 631.10,143.70 A2.70,2.50 0 0 1 631.10,148.70 Q622.20,149.50 613.30,148.70 A2.70,2.50 0 0 1 613.30,143.70Z" fill="#3a3a3a"/>
<path d="M613.10,154.00 Q622.00,154.00 630.90,154.00 A1.10,0.90 0 0 1 630.90,155.80 Q622.00,155.80 613.10,155.80 A1.10,0.90 0 0 1 613.10,154.00Z" fill="#d2d2d2"/>
<path d="M644.80,143.10 Q653.90,142.70 663.00,143.10 A3.40,3.20 0 0 1 663.00,149.50 Q653.90,150.30 644.80,149.50 A3.40,3.20 0 0 1 644.80,143.10Z" fill="#2a2a2a"/>
<path d="M645.30,153.50 Q654.00,153.50 662.70,153.50 A1.30,1.10 0 0 1 662.70,155.70 Q654.00,155.70 645.30,155.70 A1.30,1.10 0 0 1 645.30,153.50Z" fill="#c8c8c8"/>
<path d="M677.10,144.50 Q686.65,142.50 696.20,141.30 A2.10,2.90 0 0 1 696.20,147.10 Q686.65,149.30 677.10,148.30 A2.10,1.90 0 0 1 677.10,144.50Z" fill="#222"/>
<path d="M679.10,151.50 Q687.00,151.50 694.90,151.50 A1.10,0.90 0 0 1 694.90,153.30 Q687.00,153.30 679.10,153.30 A1.10,0.90 0 0 1 679.10,151.50Z" fill="#d0d0d0"/>
<path d="M549.30,192.10 Q558.60,190.70 567.90,192.50 A1.90,1.05 0 0 1 567.90,194.60 Q558.60,193.95 549.30,195.50 A1.90,1.70 0 0 1 549.30,192.10Z" fill="#2a2a2a"/>
<path d="M579.20,190.90 Q588.20,189.90 597.20,191.30 A3.40,2.80 0 0 1 597.20,196.90 Q588.20,198.70 579.20,197.30 A3.40,3.20 0 0 1 579.20,190.90Z" fill="#1a1a1a"/>
<path d="M610.90,192.30 Q621.20,192.65 631.50,192.40 A1.90,1.65 0 0 1 631.50,195.70 Q621.20,194.50 610.90,195.70 A1.90,1.70 0 0 1 610.90,192.30Z" fill="#2c2c2c"/>
<path d="M644.60,190.50 Q652.80,190.20 661.00,190.30 A2.80,2.10 0 0 1 661.00,194.50 Q652.80,195.90 644.60,195.70 A2.80,2.60 0 0 1 644.60,190.50Z" fill="#1c1c1c"/>
<path d="M673.70,190.50 Q684.30,191.60 694.90,189.10 A2.10,1.40 0 0 1 694.90,191.90 Q684.30,194.30 673.70,194.30 A2.10,1.90 0 0 1 673.70,190.50Z" fill="#333"/>
<path d="M554.00,268.50 Q560.90,268.50 567.80,268.50 A1.60,1.40 0 0 1 567.80,271.30 Q560.90,271.30 554.00,271.30 A1.60,1.40 0 0 1 554.00,268.50Z" fill="#7c7c7c"/>
<path d="M581.20,269.70 Q591.30,269.40 601.40,269.50 A2.00,2.10 0 0 1 601.40,273.70 Q591.30,275.10 581.20,273.30 A2.00,1.80 0 0 1 581.20,269.70Z" fill="#262626"/>
<path d="M614.70,268.50 Q622.30,268.10 629.90,268.50 A1.90,1.60 0 0 1 629.90,271.70 Q622.30,272.40 614.70,271.90 A1.90,1.70 0 0 1 614.70,268.50Z" fill="#5a5a5a"/>
<path d="M644.20,269.50 Q653.90,269.10 663.60,269.50 A2.40,2.20 0 0 1 663.60,273.90 Q653.90,274.70 644.20,273.90 A2.40,2.20 0 0 1 644.20,269.50Z" fill="#2c2c2c"/>
<path d="M675.00,269.50 Q684.25,268.80 693.50,267.70 A2.00,1.60 0 0 1 693.50,270.90 Q684.25,273.00 675.00,273.10 A2.00,1.80 0 0 1 675.00,269.50Z" fill="#363636"/>
<path d="M547.80,306.20 Q557.60,307.20 567.40,306.20 A4.00,4.05 0 0 1 567.40,314.30 Q557.60,313.10 547.80,314.30 A4.00,4.05 0 0 1 547.80,306.20Z" fill="#1a1a1a"/>
<path d="M579.60,305.20 Q589.20,306.00 598.80,305.20 A4.00,4.80 0 0 1 598.80,314.80 Q589.20,313.60 579.60,314.80 A4.00,4.80 0 0 1 579.60,305.20Z" fill="#1a1a1a"/>
<path d="M611.60,306.00 Q621.00,305.90 630.40,306.20 A4.00,4.60 0 0 1 630.40,315.40 Q621.00,314.40 611.60,315.00 A4.00,4.50 0 0 1 611.60,306.00Z" fill="#1a1a1a"/>
<path d="M642.80,306.50 Q652.70,306.45 662.60,307.00 A4.00,4.90 0 0 1 662.60,316.80 Q652.70,316.00 642.80,316.00 A4.00,4.75 0 0 1 642.80,306.50Z" fill="#1a1a1a"/>
<path d="M675.20,308.20 Q685.35,307.80 695.50,308.20 A4.00,4.40 0 0 1 695.50,317.00 Q685.35,317.00 675.20,317.00 A4.00,4.40 0 0 1 675.20,308.20Z" fill="#1a1a1a"/>
</g>
<g filter="url(#bl3)">
<path d="M551.00,101.90 Q557.60,103.50 564.20,101.90 A1.80,1.60 0 0 1 564.20,105.10 Q557.60,107.50 551.00,105.10 A1.80,1.60 0 0 1 551.00,101.90Z" fill="#c2c2c2"/>
<path d="M578.30,102.30 Q588.25,103.60 598.20,102.10 A2.80,2.90 0 0 1 598.20,107.90 Q588.25,109.30 578.30,107.50 A2.80,2.60 0 0 1 578.30,102.30Z" fill="#505050"/>
<path d="M612.65,101.50 Q619.75,101.10 626.85,101.50 A2.35,2.05 0 0 1 626.85,105.60 Q619.75,106.70 612.65,105.80 A2.35,2.15 0 0 1 612.65,101.50Z" fill="#686868"/>
<path d="M645.20,101.70 Q652.90,101.30 660.60,101.70 A3.20,2.90 0 0 1 660.60,107.50 Q652.90,108.20 645.20,107.70 A3.20,3.00 0 0 1 645.20,101.70Z" fill="#4c4c4c"/>
<path d="M676.20,101.10 Q684.00,101.30 691.80,100.70 A3.20,3.10 0 0 1 691.80,106.90 Q684.00,107.60 676.20,107.10 A3.20,3.00 0 0 1 676.20,101.10Z" fill="#4c4c4c"/>
</g>
<text x="559.8" y="38.9" text-anchor="middle" font-size="12.6" font-weight="bold">NC</text>
<text x="589.4" y="38.9" text-anchor="middle" font-size="12.6" font-weight="bold">OC</text>
<text x="620.2" y="38.9" text-anchor="middle" font-size="12.6" font-weight="bold">HK</text>
<text x="653.2" y="38.9" text-anchor="middle" font-size="12.6" font-weight="bold">LK</text>
<text x="689.2" y="38.9" text-anchor="middle" font-size="12.6" font-weight="bold">LOS</text>
</svg>
</body></html>
